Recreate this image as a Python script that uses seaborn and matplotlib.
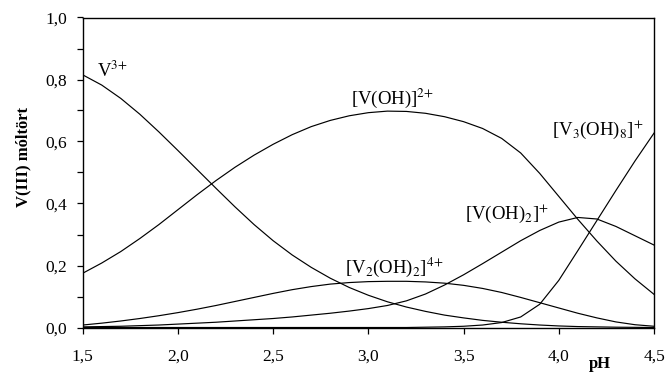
import matplotlib
matplotlib.use("Agg")
import matplotlib.pyplot as plt
import seaborn as sns
import pandas as pd
from matplotlib.ticker import MultipleLocator, FuncFormatter

ph = [1.5, 1.6, 1.7, 1.8, 1.9, 2.0, 2.1, 2.2, 2.3, 2.4, 2.5, 2.6, 2.7, 2.8, 2.9, 3.0,
      3.1, 3.2, 3.3, 3.4, 3.5, 3.6, 3.7, 3.8, 3.9, 4.0, 4.1, 4.2, 4.3, 4.4, 4.5]

v3 = [0.815, 0.782, 0.739, 0.688, 0.631, 0.571, 0.510, 0.449, 0.389, 0.332, 0.280,
      0.234, 0.194, 0.159, 0.129, 0.104, 0.083, 0.066, 0.052, 0.040, 0.031, 0.023,
      0.017, 0.012, 0.008, 0.005, 0.003, 0.002, 0.001, 0.0005, 0.0]

voh = [0.175, 0.208, 0.245, 0.287, 0.332, 0.380, 0.428, 0.474, 0.517, 0.556, 0.591,
       0.622, 0.648, 0.668, 0.683, 0.693, 0.698, 0.697, 0.691, 0.680, 0.664, 0.642,
       0.610, 0.563, 0.497, 0.423, 0.349, 0.279, 0.214, 0.157, 0.107]

voh2 = [0.002, 0.003, 0.004, 0.006, 0.008, 0.011, 0.014, 0.017, 0.021, 0.025, 0.029,
        0.034, 0.040, 0.046, 0.053, 0.061, 0.071, 0.086, 0.108, 0.137, 0.170, 0.206,
        0.243, 0.280, 0.313, 0.340, 0.355, 0.350, 0.326, 0.296, 0.266]

v2oh2 = [0.008, 0.014, 0.021, 0.029, 0.038, 0.048, 0.059, 0.071, 0.084, 0.097, 0.110,
         0.122, 0.132, 0.140, 0.145, 0.148, 0.149, 0.149, 0.147, 0.143, 0.136, 0.126,
         0.113, 0.097, 0.080, 0.063, 0.046, 0.031, 0.018, 0.009, 0.004]

v3oh8 = [0.0, 0.0, 0.0, 0.0, 0.0, 0.0, 0.0, 0.0, 0.0, 0.0, 0.0,
         0.0, 0.0, 0.0, 0.0, 0.0, 0.0, 0.0, 0.001, 0.002, 0.004, 0.008,
         0.016, 0.034, 0.075, 0.152, 0.248, 0.345, 0.442, 0.537, 0.627]

series = {"V3+": v3, "VOH2+": voh, "VOH2+b": voh2, "V2OH2": v2oh2, "V3OH8": v3oh8}

labels = ["V$^{3{+}}$", "[V(OH)]$^{2{+}}$", "[V(OH)$_2$]$^{{+}}$",
          "[V$_2$(OH)$_2$]$^{4{+}}$", "[V$_3$(OH)$_8$]$^{{+}}$"]

x_ticks = [1.5, 2.0, 2.5, 3.0, 3.5, 4.0, 4.5]

plt.rcParams["font.family"] = ["Liberation Serif", "DejaVu Serif"]
plt.rcParams["mathtext.fontset"] = "stix"

fig = plt.figure(figsize=(6.66, 3.74), dpi=100)
ax = fig.add_axes([82.7 / 666, 1 - 327.5 / 374, (654 - 82.7) / 666, (327.5 - 17.5) / 374])

rows = []
for name, vals in series.items():
    for p, v in zip(ph, vals):
        rows.append({"pH": p, "frac": v, "species": name})
df = pd.DataFrame(rows)

for name in series:
    sns.lineplot(data=df[df.species == name], x="pH", y="frac", ax=ax,
                 color="black", linewidth=0.85, legend=False)

ax.set_xlim(1.5, 4.5)
ax.set_ylim(0, 1.0)
ax.set_xticks(x_ticks)
ax.yaxis.set_major_locator(MultipleLocator(0.2))
ax.yaxis.set_minor_locator(MultipleLocator(0.1))
fmt = FuncFormatter(lambda v, pos: f"{v:.1f}".replace(".", ","))
ax.xaxis.set_major_formatter(fmt)
ax.yaxis.set_major_formatter(fmt)
ax.tick_params(axis="both", which="both", direction="out", length=4, width=0.9,
               labelsize=12.5, colors="black")
ax.tick_params(axis="x", pad=11)
ax.tick_params(axis="y", pad=7)
for s in ax.spines.values():
    s.set_linewidth(1.0)
    s.set_color("black")
ax.set_xlabel("")
ax.set_ylabel("")

tsize = 13.5
ax.text(1.575, 0.808, labels[0], fontsize=tsize, ha="left", va="baseline")
ax.text(2.91, 0.72, labels[1], fontsize=tsize, ha="left", va="baseline")
ax.text(3.506, 0.35, labels[2], fontsize=tsize, ha="left", va="baseline")
ax.text(2.876, 0.176, labels[3], fontsize=tsize, ha="left", va="baseline")
ax.text(3.967, 0.62, labels[4], fontsize=tsize, ha="left", va="baseline")

fig.text(600 / 666, 1 - 364 / 374, "pH", fontsize=12, fontweight="bold",
         ha="center", va="center")
fig.text(23.5 / 666, 1 - 157 / 374, "V(III) móltört", fontsize=12, fontweight="bold",
         ha="center", va="center", rotation=90)

fig.savefig("out.png", dpi=100)
